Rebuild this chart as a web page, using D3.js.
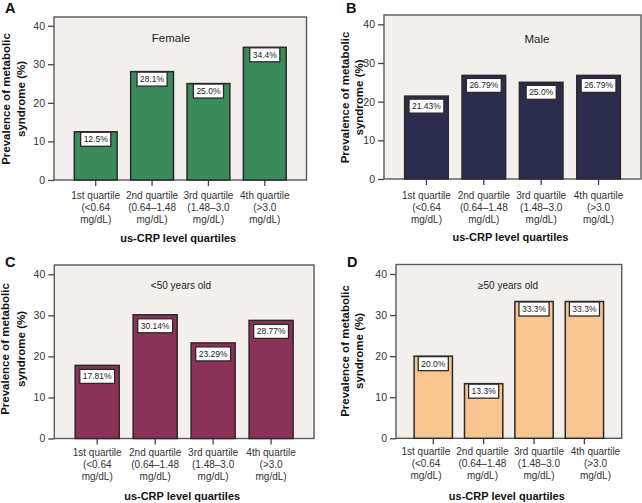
<!DOCTYPE html>
<html>
<head>
<meta charset="utf-8">
<script src="https://cdn.jsdelivr.net/npm/d3@7"></script>
<style>
  html, body { margin: 0; padding: 0; background: #ffffff; }
  svg { display: block; font-family: "Liberation Sans", Arial, sans-serif; }
</style>
</head>
<body>
<svg id="chart" width="642" height="503"></svg>
<script>
// ---- data ----
const categoryNames = ["1st quartile", "2nd quartile", "3rd quartile", "4th quartile"];
const categoryRanges = ["(<0.64", "(0.64\u20131.48", "(1.48\u20133.0", "(>3.0"];
const categoryUnit = "mg/dL)";
const yTicks = [0, 10, 20, 30, 40];
const xAxisTitle = "us-CRP level quartiles";
const yAxisTitle = ["Prevalence of metabolic", "syndrome (%)"];

const panelLetters = ["A", "B", "C", "D"];
const panelTitles = ["Female", "Male", "<50 years old", "\u226550 years old"];

const femaleValues = [12.5, 28.1, 25.0, 34.4];
const femaleLabels = ["12.5%", "28.1%", "25.0%", "34.4%"];
const maleValues = [21.43, 26.79, 25.0, 26.79];
const maleLabels = ["21.43%", "26.79%", "25.0%", "26.79%"];
const under50Values = [17.81, 30.14, 23.29, 28.77];
const under50Labels = ["17.81%", "30.14%", "23.29%", "28.77%"];
const over50Values = [20.0, 13.3, 33.3, 33.3];
const over50Labels = ["20.0%", "13.3%", "33.3%", "33.3%"];

// ---- layout (positions / styles only) ----
const layouts = [
  { L: 54, R: 306.5, top: 17, y0: 180, y40: 25.7, tx: 171, ty: 42, ts: 11.5,
    ytx: [6, 21], yty: 99, boxOff: 0.5, lx: 5, ly: 13.2, color: "#3b8a5a", lab: 15, labRange: null },
  { L: 384, R: 641, top: 15, y0: 179, y40: 24.3, tx: 537, ty: 43, ts: 11.5,
    ytx: [345, 358.5], yty: 97.5, boxOff: 3, lx: 346, ly: 13.2, color: "#2b2c4e", lab: 16, labRange: null },
  { L: 54.3, R: 314, top: 265, y0: 438.5, y40: 274.3, tx: 181, ty: 288.5, ts: 10,
    ytx: [5, 21], yty: 349, boxOff: 4, lx: 5, ly: 266.5, color: "#8c3157", lab: 14, labRange: null },
  { L: 396, R: 621.7, top: 264.5, y0: 438.3, y40: 274, tx: 508, ty: 288.5, ts: 10,
    ytx: [344.5, 358.5], yty: 351, boxOff: 0.5, lx: 347, ly: 266.5, color: "#f9c590", lab: 13.5,
    labRange: [397.7, 623.7] }
];

const panelValues = [femaleValues, maleValues, under50Values, over50Values];
const panelLabels = [femaleLabels, maleLabels, under50Labels, over50Labels];

const svg = d3.select("#chart");

panelLetters.forEach((letter, i) => {
  const lay = layouts[i];
  const values = panelValues[i];
  const labels = panelLabels[i];
  const g = svg.append("g");

  const x = d3.scaleBand()
    .domain(categoryNames)
    .range([lay.L, lay.R])
    .paddingInner(0.24)
    .paddingOuter(0.36);

  // scale for the category text positions (spread wider in panel D)
  const xLab = lay.labRange
    ? d3.scaleBand().domain(categoryNames).range(lay.labRange).padding(0)
    : x;

  const y = d3.scaleLinear()
    .domain([0, 40])
    .range([lay.y0, lay.y40]);

  // plot frame / background
  g.append("rect")
    .attr("x", lay.L)
    .attr("y", lay.top)
    .attr("width", lay.R - lay.L)
    .attr("height", lay.y0 - lay.top)
    .attr("fill", "#f3efed")
    .attr("stroke", "#5a5a5a")
    .attr("stroke-width", 1.4);

  // y axis
  const yAxis = g.append("g")
    .attr("transform", `translate(${lay.L},0)`)
    .call(d3.axisLeft(y).tickValues(yTicks).tickSize(6).tickPadding(3).tickFormat(d3.format("d")));
  yAxis.select(".domain").remove();
  yAxis.selectAll(".tick line").attr("stroke", "#444").attr("stroke-width", 1.3);
  yAxis.selectAll(".tick text").attr("fill", "#333").style("font-size", "10.5px")
    .style("font-family", "'Liberation Sans', Arial, sans-serif");

  // x axis
  const xAxis = g.append("g")
    .attr("transform", `translate(0,${lay.y0})`)
    .call(d3.axisBottom(x).tickSize(6).tickFormat(""));
  xAxis.select(".domain").remove();
  xAxis.selectAll(".tick line").attr("stroke", "#444").attr("stroke-width", 1.3);

  // multi-line category labels
  categoryNames.forEach((c, j) => {
    const cx = xLab(c) + xLab.bandwidth() / 2;
    const lines = [c, categoryRanges[j], categoryUnit];
    lines.forEach((t, k) => {
      g.append("text")
        .attr("x", cx)
        .attr("y", lay.y0 + lay.lab + k * 12)
        .attr("dy", "0.35em")
        .attr("text-anchor", "middle")
        .attr("fill", "#333")
        .style("font-size", "10px")
        .text(t);
    });
  });

  // bars
  g.selectAll("rect.bar")
    .data(values)
    .enter()
    .append("rect")
    .attr("class", "bar")
    .attr("x", (d, j) => x(categoryNames[j]))
    .attr("y", d => y(d))
    .attr("width", x.bandwidth())
    .attr("height", d => y(0) - y(d))
    .attr("fill", lay.color)
    .attr("stroke", "#2a2a2a")
    .attr("stroke-width", 1.5);

  // value label boxes
  values.forEach((v, j) => {
    const cx = x(categoryNames[j]) + x.bandwidth() / 2;
    const txt = g.append("text")
      .attr("x", cx)
      .attr("y", y(v) + lay.boxOff + 7)
      .attr("dy", "0.35em")
      .attr("text-anchor", "middle")
      .attr("fill", "#222")
      .style("font-size", "8.5px")
      .text(labels[j]);
    const w = txt.node().getComputedTextLength() + 6;
    g.insert("rect", () => txt.node())
      .attr("x", cx - w / 2)
      .attr("y", y(v) + lay.boxOff)
      .attr("width", w)
      .attr("height", 14)
      .attr("fill", "#ffffff")
      .attr("stroke", "#2a2a2a")
      .attr("stroke-width", 1.3);
  });

  // panel title
  g.append("text")
    .attr("x", lay.tx)
    .attr("y", lay.ty)
    .attr("text-anchor", "middle")
    .attr("fill", "#222")
    .style("font-size", lay.ts + "px")
    .text(panelTitles[i]);

  // x axis title
  g.append("text")
    .attr("x", (lay.L + lay.R) / 2 - 2)
    .attr("y", lay.y0 + 58)
    .attr("dy", "0.35em")
    .attr("text-anchor", "middle")
    .attr("fill", "#111")
    .style("font-size", "11px")
    .style("font-weight", "bold")
    .text(xAxisTitle);

  // y axis title (two lines, rotated)
  yAxisTitle.forEach((t, k) => {
    g.append("text")
      .attr("transform", `translate(${lay.ytx[k]},${lay.yty}) rotate(-90)`)
      .attr("dy", "0.35em")
      .attr("text-anchor", "middle")
      .attr("fill", "#111")
      .style("font-size", "11.5px")
      .style("font-weight", "bold")
      .text(t);
  });

  // panel letter
  g.append("text")
    .attr("x", lay.lx)
    .attr("y", lay.ly)
    .attr("fill", "#111")
    .style("font-size", "14.5px")
    .style("font-weight", "bold")
    .text(letter);
});
</script>
</body>
</html>
